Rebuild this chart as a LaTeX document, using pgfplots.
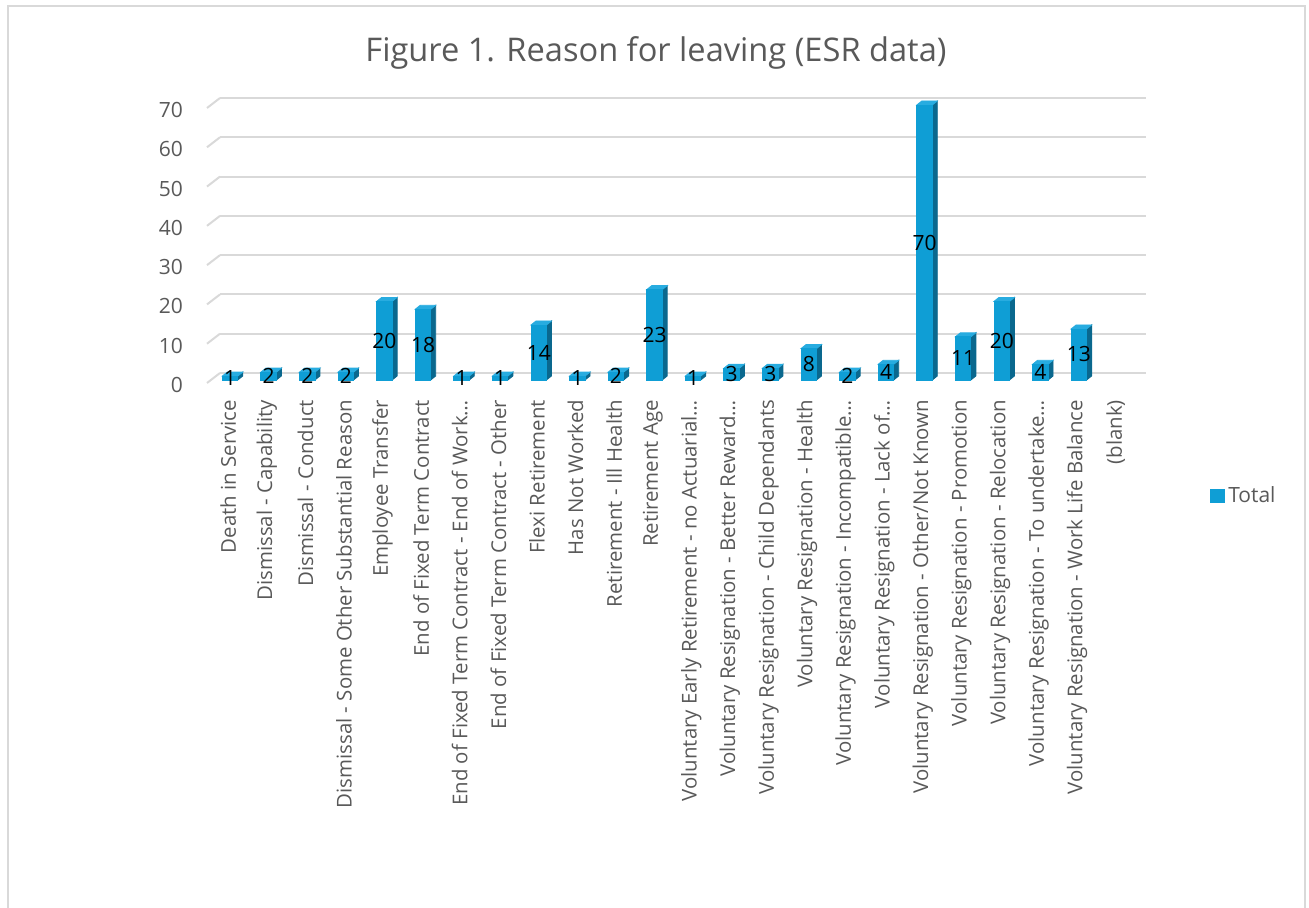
\documentclass[border=0pt]{standalone}
\usepackage{pgfplots}
\pgfplotsset{compat=1.18}
\usepackage{pgfplotstable}
\usepackage{fontspec}
\setmainfont{Open Sans}

\definecolor{barfront}{RGB}{15,158,213}
\definecolor{barside}{RGB}{10,104,142}
\definecolor{bartop}{RGB}{40,172,224}
\definecolor{gridgray}{RGB}{217,217,217}
\definecolor{textgray}{RGB}{89,89,89}
\definecolor{framegray}{RGB}{217,217,217}

% Leavers per reason (ESR data); the (blank) category has no count
\pgfplotstableread{
idx val
0 1
1 2
2 2
3 2
4 20
5 18
6 1
7 1
8 14
9 1
10 2
11 23
12 1
13 3
14 3
15 8
16 2
17 4
18 70
19 11
20 20
21 4
22 13
}\leavers

\newcommand{\lblfont}{\fontsize{10.2}{12}\selectfont}
\newcommand{\tickfont}{\fontsize{10.5}{12}\selectfont}

\begin{document}
\begin{tikzpicture}[x=0.5pt,y=0.5pt]
\useasboundingbox (0,0) rectangle (1309,908);
% chart frame
\draw[framegray, line width=1pt] (8,-4) -- (8,902) -- (1305,902) -- (1305,-4);
% title
\node[text=textgray, font=\fontsize{16.3}{19}\selectfont] at (656,855) {Figure 1. Reason for leaving (ESR data)};
\begin{axis}[
  at={(110pt,267.5pt)}, anchor=south west,
  scale only axis, width=463pt, height=137.5pt,
  xmin=-0.5, xmax=23.5, ymin=0, ymax=70,
  clip=false,
  axis line style={draw=none},
  major tick length=0pt,
  ymajorgrids, grid style={gridgray, line width=1pt},
  ytick={0,10,...,70},
  xtick={0,...,23},
  xticklabels={Death in Service, Dismissal - Capability, Dismissal - Conduct,
    Dismissal - Some Other Substantial Reason, Employee Transfer,
    End of Fixed Term Contract, End of Fixed Term Contract - End of Work…,
    End of Fixed Term Contract - Other, Flexi Retirement, Has Not Worked,
    Retirement - Ill Health, Retirement Age,
    Voluntary Early Retirement - no Actuarial…,
    Voluntary Resignation - Better Reward…,
    Voluntary Resignation - Child Dependants,
    Voluntary Resignation - Health,
    Voluntary Resignation - Incompatible…,
    Voluntary Resignation - Lack of…,
    Voluntary Resignation - Other/Not Known,
    Voluntary Resignation - Promotion,
    Voluntary Resignation - Relocation,
    Voluntary Resignation - To undertake…,
    Voluntary Resignation - Work Life Balance,
    (blank)},
  /pgf/number format/assume math mode=true,
  yticklabel style={font=\tickfont, text=textgray, anchor=east, xshift=-15pt, yshift=-6pt},
  xticklabel style={font=\lblfont, text=textgray, xshift=-5.5pt, yshift=-10pt, rotate=90, anchor=east},
  legend style={at={(1.069,-0.447)}, anchor=west, draw=none, fill=none,
    font=\tickfont, text=textgray, inner sep=0pt},
]
% floor edge of every gridline
\pgfplotsinvokeforeach{0,10,20,30,40,50,60,70}{
  \draw[gridgray, line width=1pt] (axis cs:-0.5,#1) -- ++(-6.5pt,-5pt);
}
% 3-D columns: right side, top, front face and the value label
\addplot[
  forget plot,
  scatter, only marks, mark=text, text mark={},
  visualization depends on={rawy \as \barval},
  scatter/@pre marker code/.code={%
    \pgfmathsetlengthmacro\bh{\barval*1.9643pt}%
    \fill[barside] (-0.75pt,-3.5pt-\bh) -- (1.75pt,-1.5pt-\bh) -- (1.75pt,-1.5pt) -- (-0.75pt,-3.5pt) -- cycle;
    \fill[bartop] (-8.5pt,-3.5pt) -- (-0.75pt,-3.5pt) -- (1.75pt,-1.5pt) -- (-6pt,-1.5pt) -- cycle;
    \fill[barfront] (-8.5pt,-3.5pt-\bh) rectangle (-0.75pt,-3.5pt);
    \node[font=\tickfont, text=black, inner sep=0pt] at (-4.6pt,-3.5pt-0.5*\bh) {\pgfmathprintnumber{\barval}};
  },
  scatter/@post marker code/.code={},
] table[x=idx, y=val] {\leavers};
\addlegendimage{legend image code/.code={\fill[barfront] (0pt,-3.3pt) rectangle (6.6pt,3.3pt);}}
\addlegendentry{Total}
\end{axis}
\end{tikzpicture}
\end{document}
